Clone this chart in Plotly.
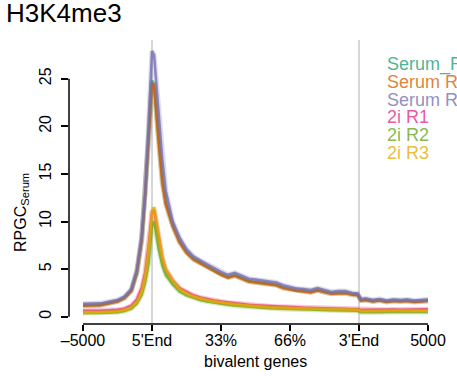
import plotly.graph_objects as go

# x positions in axis units: 0=-5000, 1=5'End, 2=33%, 3=66%, 4=3'End, 5=+5000
x_pos = [0, 0.25, 0.5, 0.6, 0.7, 0.78, 0.85, 0.9, 0.95, 0.98, 1.0, 1.03, 1.06, 1.1, 1.15, 1.2,
         1.3, 1.4, 1.5, 1.6, 1.7, 1.8, 1.9, 2.0, 2.1, 2.2, 2.3, 2.4, 2.5, 2.6, 2.7, 2.8, 2.9,
         3.0, 3.1, 3.2, 3.3, 3.4, 3.5, 3.6, 3.7, 3.8, 3.9, 3.98, 4.03, 4.1, 4.2, 4.3, 4.4,
         4.5, 4.6, 4.7, 4.8, 4.9, 5.0]

serum_r1 = [1.18, 1.22, 1.62, 1.98, 2.75, 4.65, 8.1, 12.7, 18.8, 22.5, 24.8, 24.2, 21.5, 18.3, 14.3, 12.0,
            9.6, 7.9, 6.8, 6.1, 5.65, 5.25, 4.85, 4.45, 4.15, 4.35, 4.05, 3.75, 3.65, 3.55, 3.45, 3.35, 3.05,
            2.9, 2.75, 2.7, 2.6, 2.8, 2.6, 2.45, 2.5, 2.5, 2.35, 2.3, 1.72, 1.78, 1.62, 1.72, 1.58,
            1.68, 1.62, 1.68, 1.58, 1.62, 1.68]
serum_r2 = [1.15, 1.2, 1.6, 1.95, 2.7, 4.6, 8.0, 12.6, 18.6, 22.3, 24.4, 24.4, 21.3, 18.0, 14.0, 11.8,
            9.5, 7.8, 6.7, 6.0, 5.6, 5.2, 4.8, 4.4, 4.1, 4.3, 4.0, 3.7, 3.6, 3.5, 3.4, 3.3, 3.0,
            2.85, 2.7, 2.65, 2.55, 2.75, 2.55, 2.4, 2.45, 2.45, 2.3, 2.25, 1.7, 1.75, 1.6, 1.7, 1.55,
            1.65, 1.6, 1.65, 1.55, 1.6, 1.65]
serum_r3 = [1.35, 1.4, 1.75, 2.1, 2.9, 4.9, 8.4, 13.0, 20.0, 24.5, 27.9, 27.5, 24.8, 21.0, 16.5, 13.2,
            10.0, 8.3, 7.1, 6.35, 5.9, 5.5, 5.1, 4.7, 4.4, 4.6, 4.3, 4.0, 3.9, 3.8, 3.7, 3.6, 3.3,
            3.1, 2.95, 2.9, 2.8, 3.0, 2.8, 2.6, 2.7, 2.7, 2.5, 2.45, 1.85, 1.9, 1.75, 1.85, 1.7,
            1.8, 1.75, 1.8, 1.7, 1.75, 1.8]
i2_r1 = [0.62, 0.62, 0.72, 0.85, 1.15, 1.8, 3.0, 4.6, 7.3, 9.6, 11.0, 11.2, 9.9, 8.0, 6.1, 4.9,
         3.8, 3.0, 2.6, 2.25, 2.02, 1.85, 1.7, 1.6, 1.5, 1.42, 1.32, 1.25, 1.2, 1.15, 1.1, 1.06, 1.04,
         1.0, 0.98, 0.95, 0.92, 0.95, 0.9, 0.87, 0.88, 0.85, 0.82, 0.8, 0.7, 0.72, 0.74, 0.72, 0.74,
         0.76, 0.74, 0.76, 0.78, 0.76, 0.78]
i2_r2 = [0.4, 0.4, 0.48, 0.6, 0.85, 1.4, 2.3, 3.6, 5.6, 7.9, 9.5, 10.0, 8.6, 7.0, 5.4, 4.4,
         3.4, 2.65, 2.25, 1.98, 1.75, 1.6, 1.47, 1.36, 1.26, 1.18, 1.1, 1.03, 0.98, 0.93, 0.88, 0.85, 0.82,
         0.78, 0.76, 0.74, 0.72, 0.73, 0.7, 0.68, 0.68, 0.66, 0.64, 0.62, 0.47, 0.49, 0.5, 0.48, 0.49,
         0.5, 0.49, 0.5, 0.49, 0.48, 0.49]
i2_r3 = [0.47, 0.47, 0.56, 0.7, 0.97, 1.55, 2.6, 4.2, 6.8, 9.2, 10.9, 11.5, 10.2, 8.2, 6.2, 5.0,
         3.8, 2.9, 2.45, 2.12, 1.9, 1.74, 1.6, 1.48, 1.38, 1.3, 1.22, 1.15, 1.1, 1.05, 1.0, 0.97, 0.94,
         0.9, 0.88, 0.86, 0.83, 0.85, 0.82, 0.79, 0.79, 0.77, 0.74, 0.72, 0.6, 0.62, 0.63, 0.61, 0.63,
         0.64, 0.62, 0.63, 0.64, 0.62, 0.63]

series_names = ["Serum_R1", "Serum R2", "Serum R3", "2i R1", "2i R2", "2i R3"]
series_values = [serum_r1, serum_r2, serum_r3, i2_r1, i2_r2, i2_r3]
series_colors = [(27, 158, 119), (217, 95, 2), (117, 112, 179), (231, 41, 138), (102, 166, 30), (230, 171, 2)]

tick_vals = [0, 1, 2, 3, 4, 5]
tick_text = ["\u20135000", "5'End", "33%", "66%", "3'End", "5000"]
y_tick_vals = [0, 5, 10, 15, 20, 25]

FONT = "Helvetica, Liberation Sans, Arial, sans-serif"

W, H = 457, 376
ML, MR, MT, MB = 69, 17, 40, 52
pw, ph = W - ML - MR, H - MT - MB

fig = go.Figure()

for name, vals, (r, g, b) in zip(series_names, series_values, series_colors):
    fig.add_trace(go.Scatter(x=x_pos, y=vals, mode="lines", name=name,
                             line=dict(color=f"rgba({r},{g},{b},0.25)", width=5),
                             hoverinfo="skip", showlegend=False))
    fig.add_trace(go.Scatter(x=x_pos, y=vals, mode="lines", name=name,
                             line=dict(color=f"rgba({r},{g},{b},0.8)", width=2.5),
                             showlegend=False))

# vertical reference lines at 5'End and 3'End
for xv in [1, 4]:
    fig.add_shape(type="line", xref="x", yref="paper", x0=xv, x1=xv, y0=0, y1=1,
                  line=dict(color="#c8c8c8", width=1.5), layer="below")

# offset axis lines (R style)
fig.add_shape(type="line", xref="x", yref="paper", x0=0, x1=5, y0=0, y1=0,
              line=dict(color="black", width=1.5))
fig.add_shape(type="line", xref="paper", yref="y", x0=0, x1=0, y0=0, y1=25,
              line=dict(color="black", width=1.5))

# legend as coloured text
for i, (name, (r, g, b)) in enumerate(zip(series_names, series_colors)):
    yc = 64.5 + i * 17.6
    fig.add_annotation(text=name, xref="paper", yref="paper",
                       x=(385 - ML) / pw, y=(H - MB - yc) / ph, xanchor="left", yanchor="middle",
                       showarrow=False, font=dict(family=FONT, size=18, color=f"rgba({r},{g},{b},0.8)"))

# axis titles
fig.add_annotation(text="RPGC<sub>Serum</sub>", xref="paper", yref="paper",
                   x=(21 - ML) / pw, y=(H - MB - 213) / ph, textangle=-90,
                   xanchor="center", yanchor="middle", showarrow=False,
                   font=dict(family=FONT, size=16, color="black"))
fig.add_annotation(text="bivalent genes", xref="x", yref="paper",
                   x=2.5, y=(H - MB - 361) / ph, xanchor="center", yanchor="middle",
                   showarrow=False, font=dict(family=FONT, size=16, color="black"))

fig.update_layout(
    width=W, height=H,
    margin=dict(l=ML, r=MR, t=MT, b=MB),
    paper_bgcolor="white", plot_bgcolor="white",
    font=dict(family=FONT, size=16, color="black"),
    title=dict(text="H3K4me3", x=6 / W, xanchor="left", xref="container",
               y=1 - 4 / H, yanchor="top", yref="container",
               font=dict(family=FONT, size=26, color="black")),
    showlegend=False,
    xaxis=dict(range=[-14 / 69, (W - MR - 83) / 69], tickvals=tick_vals, ticktext=tick_text,
               showgrid=False, zeroline=False, showline=False,
               ticks="outside", ticklen=6, tickwidth=1.5, tickcolor="black",
               ticklabelstandoff=-4,
               tickfont=dict(family=FONT, size=16, color="black")),
    yaxis=dict(range=[-(H - MB - 316.7) / 9.52, (316.7 - MT) / 9.52], tickvals=y_tick_vals,
               showgrid=False, zeroline=False, showline=False,
               ticks="outside", ticklen=7, tickwidth=1.5, tickcolor="black", tickangle=-90,
               ticklabelstandoff=4,
               tickfont=dict(family=FONT, size=16, color="black")),
)

fig.write_html("out.html", config={"displayModeBar": False},
               post_script="document.body.style.margin='0';document.body.style.overflow='hidden';")
